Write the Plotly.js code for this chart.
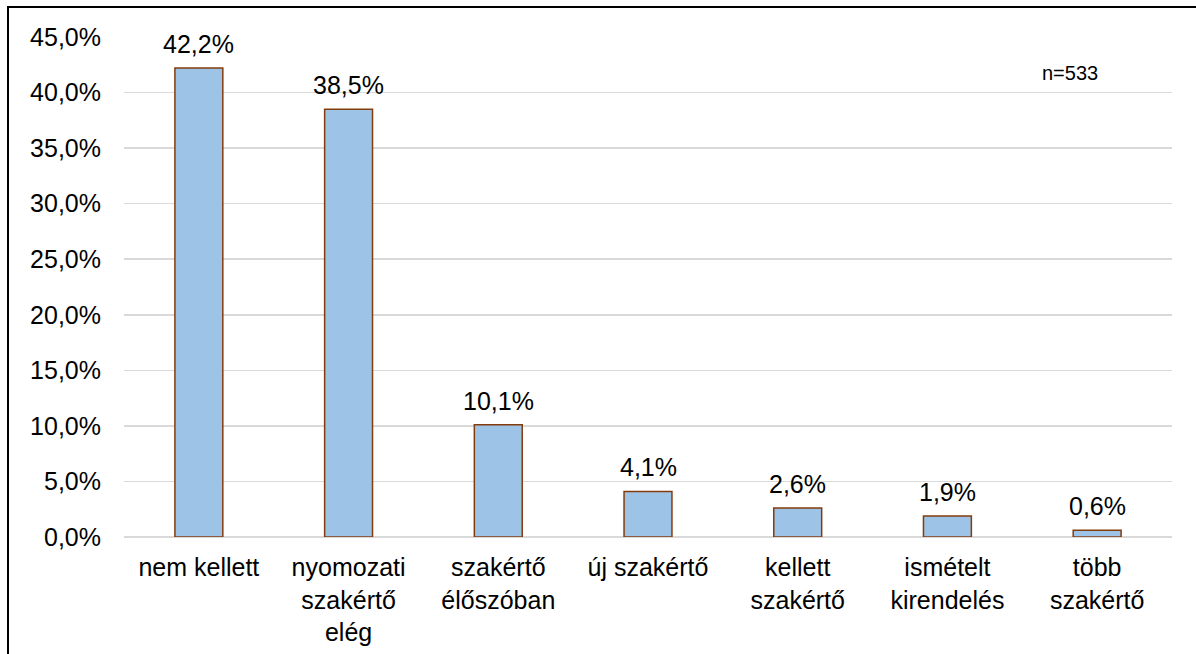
<!DOCTYPE html>
<html>
<head>
<meta charset="utf-8">
<script src="https://cdn.plot.ly/plotly-3.0.1.min.js"></script>
<style>
html,body{margin:0;padding:0;background:#fff;}
#chart{width:1196px;height:654px;}
</style>
</head>
<body>
<div id="chart"></div>
<script>
const categories = ["nem kellett", "nyomozati<br>szakértő<br>elég", "szakértő<br>élőszóban", "új szakértő", "kellett<br>szakértő", "ismételt<br>kirendelés", "több<br>szakértő"];
const values = [42.2, 38.5, 10.1, 4.1, 2.6, 1.9, 0.6];
const labels = ["42,2%", "38,5%", "10,1%", "4,1%", "2,6%", "1,9%", "0,6%"];
const tickVals = [0, 5, 10, 15, 20, 25, 30, 35, 40, 45];
const tickText = ["0,0%", "5,0%", "10,0%", "15,0%", "20,0%", "25,0%", "30,0%", "35,0%", "40,0%", "45,0%"];
const noteText = "n=533";

const font = "Liberation Sans, Arial, sans-serif";

const trace = {
  type: "bar",
  x: categories,
  y: values,
  marker: {color: "#9DC3E6", line: {color: "#843C0C", width: 1.5}},
  hoverinfo: "none"
};

const annotations = categories.map((c, i) => ({
  x: c, y: values[i], xref: "x", yref: "y",
  text: labels[i], showarrow: false, yanchor: "bottom", yshift: 8,
  font: {family: font, size: 25, color: "#000"}
}));
annotations.push({
  x: (1041 - 124) / 1048, y: (537 - 73) / 500, xref: "paper", yref: "paper", text: noteText, showarrow: false,
  xanchor: "left", yanchor: "middle", borderpad: 0,
  font: {family: font, size: 20, color: "#000"}
});

const layout = {
  width: 1196, height: 654,
  margin: {l: 124, r: 24, t: 37, b: 117},
  paper_bgcolor: "#fff", plot_bgcolor: "#fff",
  showlegend: false,
  bargap: 0.68,
  font: {family: font, color: "#000"},
  xaxis: {
    type: "category",
    tickfont: {family: font, size: 25, color: "#000"},
    showgrid: false, zeroline: false, showline: false, ticks: "",
    ticklabelstandoff: 13
  },
  yaxis: {
    range: [0, 45],
    tickvals: tickVals, ticktext: tickText,
    tickfont: {family: font, size: 25, color: "#000"},
    showgrid: true, gridcolor: "#D9D9D9", gridwidth: 1.5,
    zeroline: true, zerolinecolor: "#D9D9D9", zerolinewidth: 1.5,
    showline: false, ticks: "",
    ticklabelstandoff: 22
  },
  annotations: annotations,
  shapes: [{
    type: "rect", xref: "paper", yref: "paper",
    x0: (8 - 124) / 1048, x1: 1.2, y0: -0.5, y1: (537 - 7) / 500,
    line: {color: "#000", width: 2}, fillcolor: "rgba(0,0,0,0)", layer: "above"
  }]
};

Plotly.newPlot("chart", [trace], layout, {staticPlot: true, displayModeBar: false});
</script>
</body>
</html>
